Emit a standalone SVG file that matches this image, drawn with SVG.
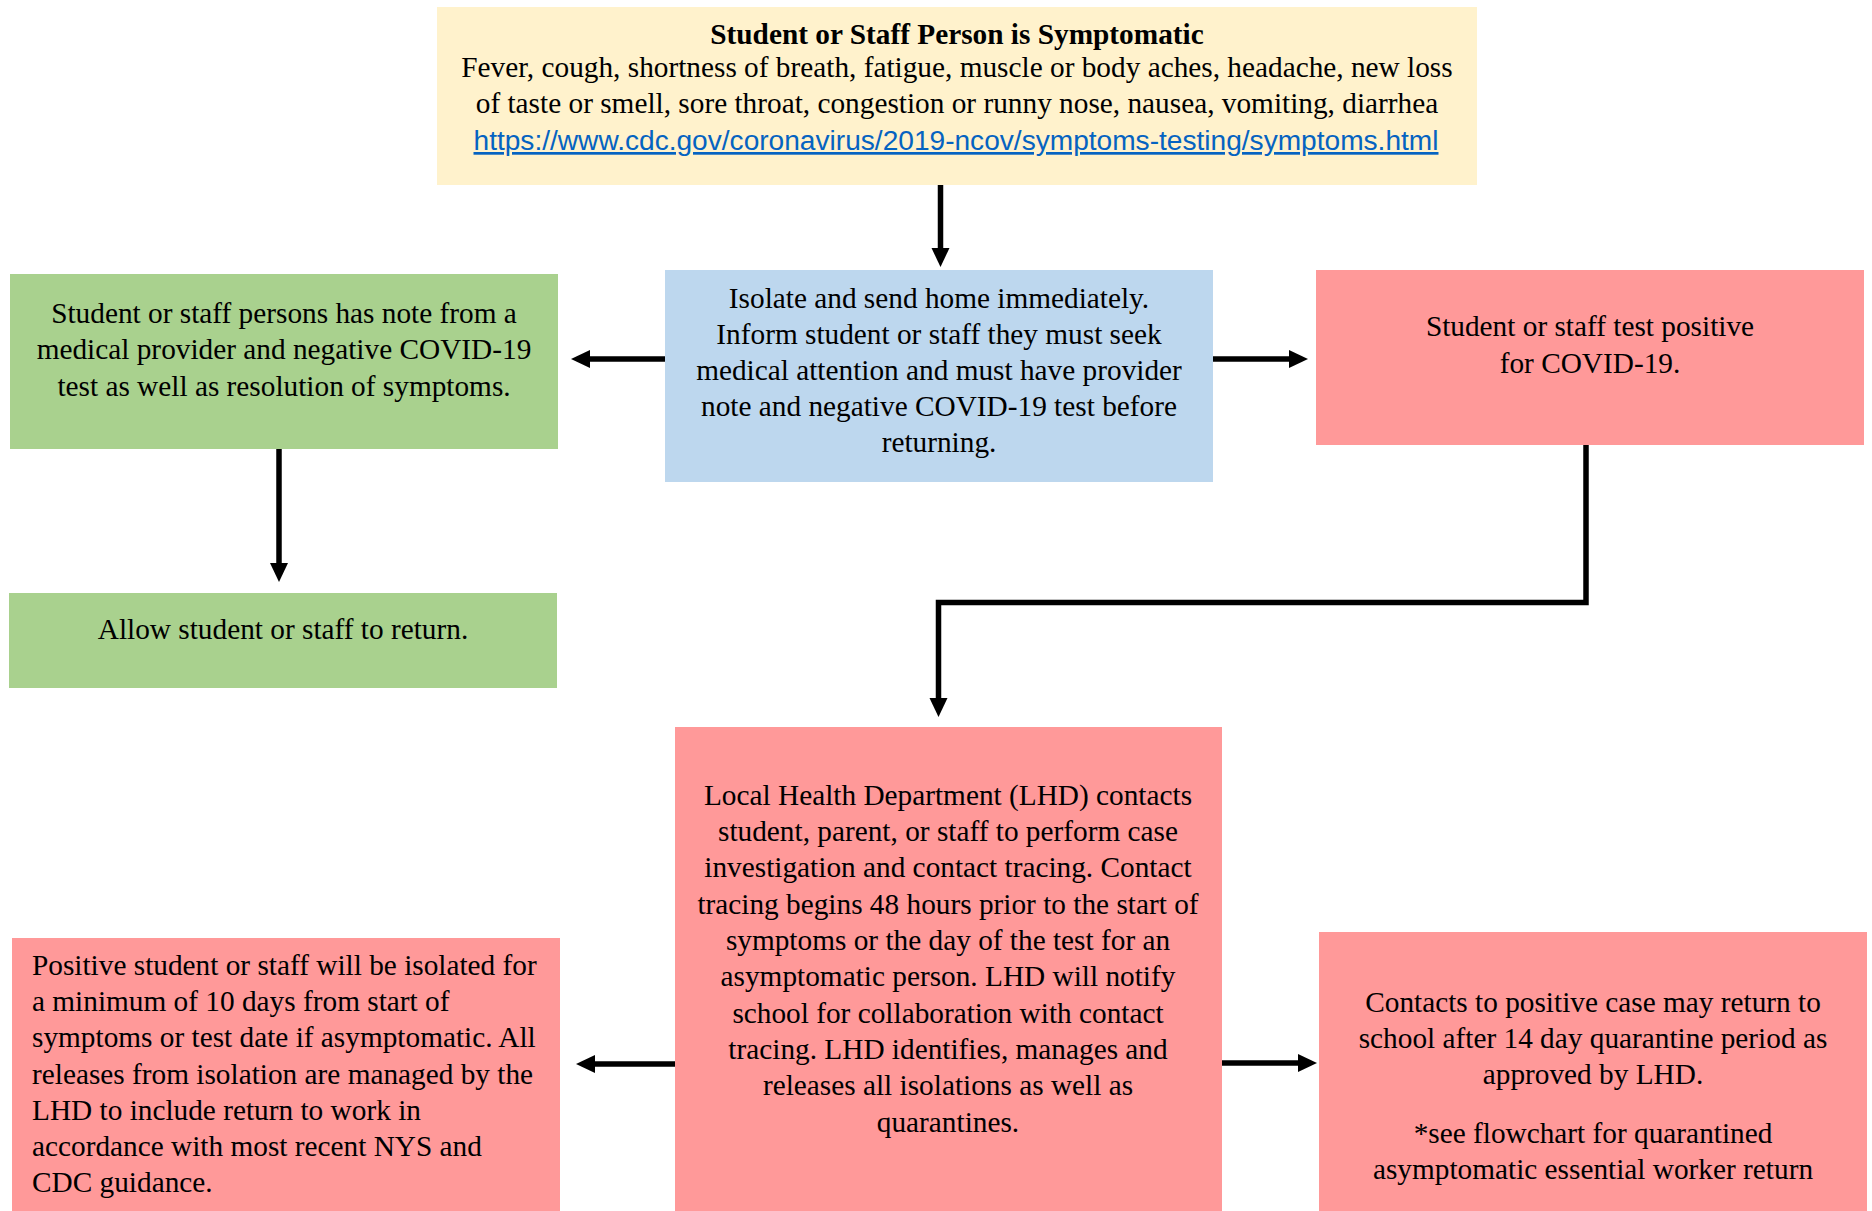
<svg xmlns="http://www.w3.org/2000/svg" width="1872" height="1211" viewBox="0 0 1872 1211">
<style>
.t{font-family:"Liberation Serif","Times New Roman",serif;font-size:29.3px;fill:#000}
.c{text-anchor:middle}
.b{font-weight:bold}
.link{font-family:"Liberation Sans",Arial,sans-serif;font-size:27px;fill:#0563C1;text-decoration:underline;text-anchor:middle}
.yel{fill:#FFF2CC}
.blu{fill:#BDD7EE}
.grn{fill:#A9D18E}
.red{fill:#FF9999}
.conn{fill:none;stroke:#000;stroke-width:5.5;marker-end:url(#ah)}
</style>
<defs>
<marker id="ah" markerUnits="userSpaceOnUse" markerWidth="20" markerHeight="20" viewBox="0 0 20 20" refX="1" refY="10" orient="auto">
<path d="M0,1 L19,10 L0,19 z" fill="#000"/>
</marker>
</defs>
<rect width="1872" height="1211" fill="#fff"/>

<g id="symptomatic">
<rect class="yel" x="437" y="7" width="1040" height="178"/>
<text class="t c b" x="957" y="44">Student or Staff Person is Symptomatic</text>
<text class="t c" x="957" y="77">Fever, cough, shortness of breath, fatigue, muscle or body aches, headache, new loss</text>
<text class="t c" x="957" y="113">of taste or smell, sore throat, congestion or runny nose, nausea, vomiting, diarrhea</text>
<text class="link" x="956" y="150" textLength="965" lengthAdjust="spacingAndGlyphs">https://www.cdc.gov/coronavirus/2019-ncov/symptoms-testing/symptoms.html</text>
</g>

<g id="isolate">
<rect class="blu" x="665" y="270" width="548" height="212"/>
<text class="t c" x="939" y="308">Isolate and send home immediately.</text>
<text class="t c" x="939" y="344">Inform student or staff they must seek</text>
<text class="t c" x="939" y="380">medical attention and must have provider</text>
<text class="t c" x="939" y="416">note and negative COVID-19 test before</text>
<text class="t c" x="939" y="452">returning.</text>
</g>

<g id="note-negative">
<rect class="grn" x="10" y="274" width="548" height="175"/>
<text class="t c" x="284" y="323">Student or staff persons has note from a</text>
<text class="t c" x="284" y="359">medical provider and negative COVID-19</text>
<text class="t c" x="284" y="396">test as well as resolution of symptoms.</text>
</g>

<g id="allow-return">
<rect class="grn" x="9" y="593" width="548" height="95"/>
<text class="t c" x="283" y="639">Allow student or staff to return.</text>
</g>

<g id="test-positive">
<rect class="red" x="1316" y="270" width="548" height="175"/>
<text class="t c" x="1590" y="336">Student or staff test positive</text>
<text class="t c" x="1590" y="373">for COVID-19.</text>
</g>

<g id="lhd">
<rect class="red" x="675" y="727" width="547" height="484"/>
<text class="t c" x="948" y="805">Local Health Department (LHD) contacts</text>
<text class="t c" x="948" y="841">student, parent, or staff to perform case</text>
<text class="t c" x="948" y="877">investigation and contact tracing. Contact</text>
<text class="t c" x="948" y="914">tracing begins 48 hours prior to the start of</text>
<text class="t c" x="948" y="950">symptoms or the day of the test for an</text>
<text class="t c" x="948" y="986">asymptomatic person. LHD will notify</text>
<text class="t c" x="948" y="1023">school for collaboration with contact</text>
<text class="t c" x="948" y="1059">tracing. LHD identifies, manages and</text>
<text class="t c" x="948" y="1095">releases all isolations as well as</text>
<text class="t c" x="948" y="1132">quarantines.</text>
</g>

<g id="isolation-release">
<rect class="red" x="12" y="938" width="548" height="273"/>
<text class="t" x="32" y="975">Positive student or staff will be isolated for</text>
<text class="t" x="32" y="1011">a minimum of 10 days from start of</text>
<text class="t" x="32" y="1047">symptoms or test date if asymptomatic. All</text>
<text class="t" x="32" y="1084">releases from isolation are managed by the</text>
<text class="t" x="32" y="1120">LHD to include return to work in</text>
<text class="t" x="32" y="1156">accordance with most recent NYS and</text>
<text class="t" x="32" y="1192">CDC guidance.</text>
</g>

<g id="contacts">
<rect class="red" x="1319" y="932" width="548" height="279"/>
<text class="t c" x="1593" y="1012">Contacts to positive case may return to</text>
<text class="t c" x="1593" y="1048">school after 14 day quarantine period as</text>
<text class="t c" x="1593" y="1084">approved by LHD.</text>
<text class="t c" x="1593" y="1143">*see flowchart for quarantined</text>
<text class="t c" x="1593" y="1179">asymptomatic essential worker return</text>
</g>

<g id="connectors">
<path class="conn" d="M940.5,185 V249"/>
<path class="conn" d="M665,359 H589"/>
<path class="conn" d="M1213,359 H1290"/>
<path class="conn" d="M279,449 V564"/>
<path class="conn" d="M1586,445 V602.5 H938.5 V699"/>
<path class="conn" d="M675,1064 H594"/>
<path class="conn" d="M1222,1063 H1299"/>
</g>
</svg>
